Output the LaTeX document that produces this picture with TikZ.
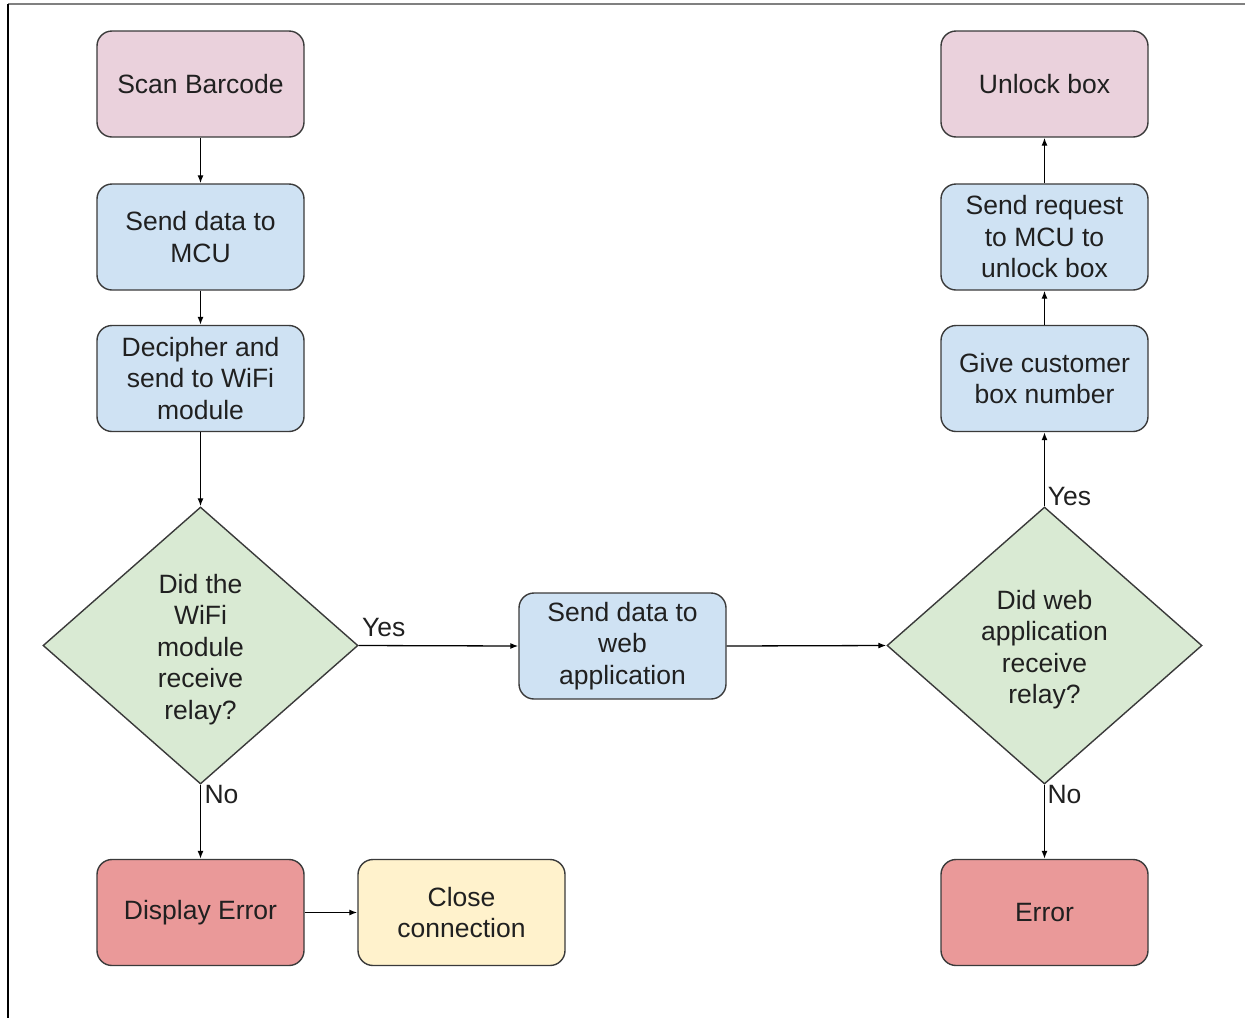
\documentclass[tikz,border=0pt]{standalone}
\usepackage{fontspec}
\setmainfont{Liberation Sans}
\usetikzlibrary{shapes.geometric,arrows.meta}
\definecolor{cpink}{HTML}{EAD1DC}
\definecolor{cblue}{HTML}{CFE2F3}
\definecolor{cgreen}{HTML}{D9EAD3}
\definecolor{cred}{HTML}{EA9999}
\definecolor{cyellow}{HTML}{FFF2CC}
\definecolor{cedge}{HTML}{3A3A3A}
\definecolor{ctext}{HTML}{202020}
\tikzset{
  box/.style={draw=cedge, line width=1.4pt, rounded corners=15pt, minimum width=207pt, minimum height=106pt, inner sep=0pt, align=center, text=ctext, font=\fontsize{26.5}{31.5}\selectfont},
  dec/.style={draw=cedge, line width=1.4pt, diamond, fill=cgreen, minimum width=315pt, minimum height=277pt, inner sep=0pt},
  dtext/.style={inner sep=0pt, align=center, text=ctext, font=\fontsize{26.5}{31.5}\selectfont},
  conn/.style={draw=black, line width=1.3pt, -{Latex[length=8pt,width=6pt]}},
  lbl/.style={inner sep=0pt, text=ctext, font=\fontsize{26.5}{31.5}\selectfont}
}
\begin{document}
\begin{tikzpicture}[x=1pt,y=-1pt]
\useasboundingbox (0,0) rectangle (1245,1018);
\draw[gray, line width=1.2pt] (8,4) -- (1245,4);
\draw[black, line width=1.4pt] (8,4) -- (8,1018);

\node[box, fill=cpink] (scan) at (200.5,84) {Scan Barcode};
\node[box, fill=cblue] (send) at (200.5,237) {Send data to\\MCU};
\node[box, fill=cblue] (deci) at (200.5,378.5) {Decipher and\\send to WiFi\\module};
\node[dec] (d1) at (200.5,645.5) {};
\node[dtext] (t1) at ([yshift=-4pt]d1.center) {Did the\\WiFi\\module\\receive\\relay?};
\node[box, fill=cred] (disp) at (200.5,912.5) {Display Error};
\node[box, fill=cyellow] (close) at (461.5,912.5) {Close\\connection};
\node[box, fill=cblue] (web) at (622.5,646) {Send data to\\web\\application};
\node[dec] (d2) at (1044.5,645.5) {};
\node[dtext] (t2) at ([yshift=-4pt]d2.center) {Did web\\application\\receive\\relay?};
\node[box, fill=cred] (err) at (1044.5,912.5) {Error};
\node[box, fill=cblue] (give) at (1044.5,378.5) {Give customer\\box number};
\node[box, fill=cblue] (req) at (1044.5,237) {Send request\\to MCU to\\unlock box};
\node[box, fill=cpink] (unl) at (1044.5,84) {Unlock box};

\draw[conn] (scan) -- (send);
\draw[conn] (send) -- (deci);
\draw[conn] (deci) -- (d1.north);
\draw[conn] (d1.south) -- (disp);
\draw[conn] (disp) -- (close);
\draw[conn] (d1.east) -- (web.west);
\draw[conn] (web.east) -- (d2.west);
\draw[conn] (d2.north) -- (give);
\draw[conn] (give) -- (req);
\draw[conn] (req) -- (unl);
\draw[conn] (d2.south) -- (err);

\node[lbl] (y1) at ([xshift=25pt,yshift=17.5pt]d1.east) {Yes};
\node[lbl] (n1) at ([xshift=21pt,yshift=-10pt]d1.south) {No};
\node[lbl] (y2) at ([xshift=25pt,yshift=10pt]d2.north) {Yes};
\node[lbl] (n2) at ([xshift=20pt,yshift=-10pt]d2.south) {No};
\end{tikzpicture}
\end{document}
